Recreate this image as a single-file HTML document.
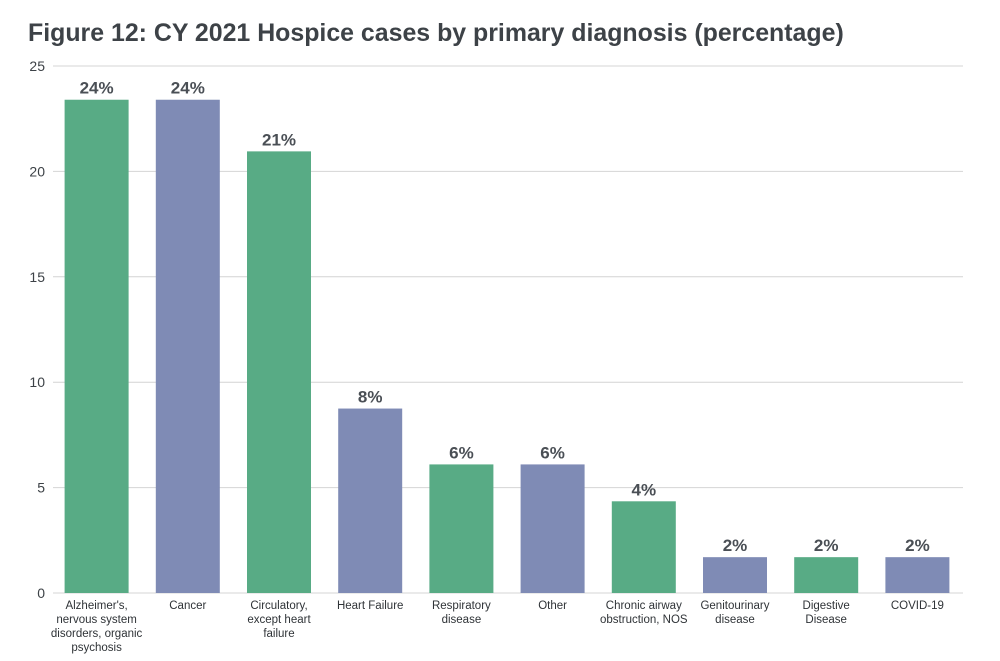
<!DOCTYPE html>
<html><head><meta charset="utf-8"><style>
body{margin:0;background:#fff;}
svg{display:block;font-family:"Liberation Sans",sans-serif;}
</style></head><body>
<svg id="chart" width="1000" height="661" viewBox="0 0 1000 661">
<text x="28" y="41" font-size="24.9" font-weight="bold" fill="#3d4247">Figure 12: CY 2021 Hospice cases by primary diagnosis (percentage)</text>
<g id="grid"></g><g id="bars"></g>
</svg>
<script>
const categories=[["Alzheimer's,","nervous system","disorders, organic","psychosis"],["Cancer"],["Circulatory,","except heart","failure"],["Heart Failure"],["Respiratory","disease"],["Other"],["Chronic airway","obstruction, NOS"],["Genitourinary","disease"],["Digestive","Disease"],["COVID-19"]];
const values=[23.4,23.4,20.95,8.75,6.1,6.1,4.35,1.7,1.7,1.7];
const valueLabels=["24%","24%","21%","8%","6%","6%","4%","2%","2%","2%"];
const yTicks=[0,5,10,15,20,25];
const NS="http://www.w3.org/2000/svg";
const x0=51,x1=963,y0=593,yTop=66,yMax=25;
const band=(x1-x0)/categories.length,bw=64;
const y=v=>y0-(y0-yTop)*v/yMax;
const xc=i=>x0+band*(i+0.5);
function mk(t,a,p){const e=document.createElementNS(NS,t);for(const k in a)e.setAttribute(k,a[k]);p.appendChild(e);return e;}
const grid=document.getElementById('grid'),bars=document.getElementById('bars');
yTicks.forEach(t=>{
 const l=mk('line',{x1:53,x2:x1,y1:y(t),y2:y(t),stroke:'#d4d4d4','stroke-width':1},grid);
 
 
 const tx=mk('text',{x:45,y:y(t)+5,'text-anchor':'end','font-size':14,fill:'#3d4247'},grid);
 tx.textContent=t;
 
 
});
values.forEach((v,i)=>{
 const r=mk('rect',{x:xc(i)-bw/2,y:y(v),width:bw,height:y0-y(v),fill:i%2?'#7f8bb5':'#58ab85'},bars);
 
 
 const t=mk('text',{x:xc(i),y:y(v)-6,'text-anchor':'middle','font-size':17,'font-weight':'bold',fill:'#4a4f55'},bars);
 t.textContent=valueLabels[i];
 
 
 const c=mk('text',{x:xc(i),y:609,'text-anchor':'middle','font-size':11.5,fill:'#2f3337'},bars);
 
 
 categories[i].forEach((s,j)=>{const ts=mk('tspan',{x:xc(i),dy:j?14:0},c);ts.textContent=s;});
});
</script>
</body></html>
